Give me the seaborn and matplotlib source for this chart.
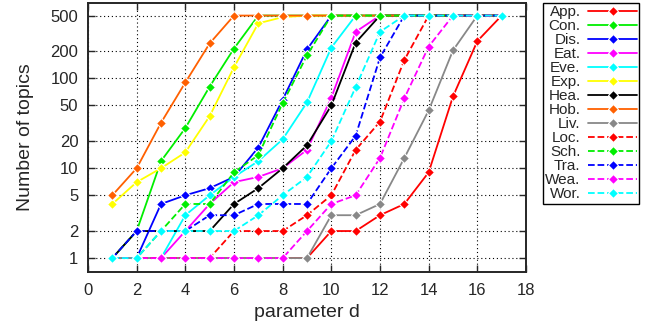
import numpy as np
import pandas as pd
import seaborn as sns
from matplotlib import pyplot as plt

# data
d = list(range(1, 18))
names = ["App.", "Con.", "Dis.", "Eat.", "Eve.", "Exp.", "Hea.",
         "Hob.", "Liv.", "Loc.", "Sch.", "Tra.", "Wea.", "Wor."]
app = [1, 1, 1, 1, 1, 1, 1, 1, 1, 2, 2, 3, 4, 9, 63, 260, 500]
con = [1, 2, 12, 28, 81, 215, 500, 500, 500, 500, 500, 500, 500, 500, 500, 500, 500]
dis = [1, 1, 4, 5, 6, 8, 17, 58, 210, 500, 500, 500, 500, 500, 500, 500, 500]
eat = [1, 1, 1, 2, 4, 7, 8, 10, 16, 61, 330, 500, 500, 500, 500, 500, 500]
eve = [1, 1, 1, 3, 5, 8, 12, 21, 54, 220, 500, 500, 500, 500, 500, 500, 500]
exp_ = [4, 7, 10, 15, 38, 133, 410, 480, 500, 500, 500, 500, 500, 500, 500, 500, 500]
hea = [1, 2, 2, 2, 2, 4, 6, 10, 18, 50, 250, 500, 500, 500, 500, 500, 500]
hob = [5, 10, 32, 90, 245, 500, 500, 500, 500, 500, 500, 500, 500, 500, 500, 500, 500]
liv = [1, 1, 1, 1, 1, 1, 1, 1, 1, 3, 3, 4, 13, 44, 205, 500, 500]
loc = [1, 1, 1, 1, 1, 2, 2, 2, 3, 5, 16, 33, 160, 500, 500, 500, 500]
sch = [1, 1, 2, 4, 4, 9, 14, 53, 180, 500, 500, 500, 500, 500, 500, 500, 500]
tra = [1, 2, 2, 2, 3, 3, 4, 4, 4, 10, 23, 171, 500, 500, 500, 500, 500]
wea = [1, 1, 1, 1, 1, 1, 1, 1, 2, 4, 5, 13, 60, 226, 500, 500, 500]
wor = [1, 1, 2, 2, 2, 2, 3, 5, 8, 20, 80, 330, 500, 500, 500, 500, 500]
series = [app, con, dis, eat, eve, exp_, hea, hob, liv, loc, sch, tra, wea, wor]

colors = ["#ff0000", "#00ee00", "#0000ff", "#ff00ff", "#00ffff", "#ffff00", "#000000",
          "#ff6000", "#888888", "#ff0000", "#00ee00", "#0000ff", "#ff00ff", "#00ffff"]
styles = ["-"] * 9 + ["--"] * 5

sns.set_style("ticks")
plt.rcParams["font.family"] = ["Liberation Sans", "DejaVu Sans"]

fig = plt.figure(figsize=(6.52, 3.26), dpi=100)
ax = fig.add_axes([88 / 652, 1 - 272 / 326, 438 / 652, 269 / 326])

for name, vals, c, ls in zip(names, series, colors, styles):
    df = pd.DataFrame({"d": d, "n": vals})
    sns.lineplot(data=df, x="d", y="n", ax=ax, color=c, linestyle=ls, linewidth=1.3,
                 marker="D", markersize=5.5, markeredgewidth=0.8, label=name, legend=False)

ax.set_yscale("log")
ax.set_xlim(0, 18)
ax.set_ylim(0.7, 690)
ax.set_xticks(range(0, 19, 2))
yt = [1, 2, 5, 10, 20, 50, 100, 200, 500]
ax.set_yticks(yt)
ax.set_yticklabels([str(v) for v in yt])
ax.minorticks_off()
ax.tick_params(direction="in", top=True, right=True, labelsize=12, length=5, width=1)
ax.tick_params(axis="x", pad=8)
ax.tick_params(axis="y", pad=7)
ax.grid(True, color="black", linestyle=(0, (1, 2.5)), linewidth=0.8)
for s in ax.spines.values():
    s.set_linewidth(1.4)
ax.set_xlabel("parameter d", fontsize=14, labelpad=4)
ax.set_ylabel("Number of topics", fontsize=14, labelpad=12)

h, l = ax.get_legend_handles_labels()
leg = fig.legend(h, l, loc="upper left", bbox_to_anchor=(543 / 652, 1 - 3 / 326),
                 markerfirst=False, fontsize=11, handlelength=3.2, labelspacing=0.0,
                 handletextpad=0.5, borderaxespad=0, borderpad=0.15, fancybox=False,
                 framealpha=1, edgecolor="black")
leg.get_frame().set_linewidth(1)

fig.savefig("out.png", dpi=100)
